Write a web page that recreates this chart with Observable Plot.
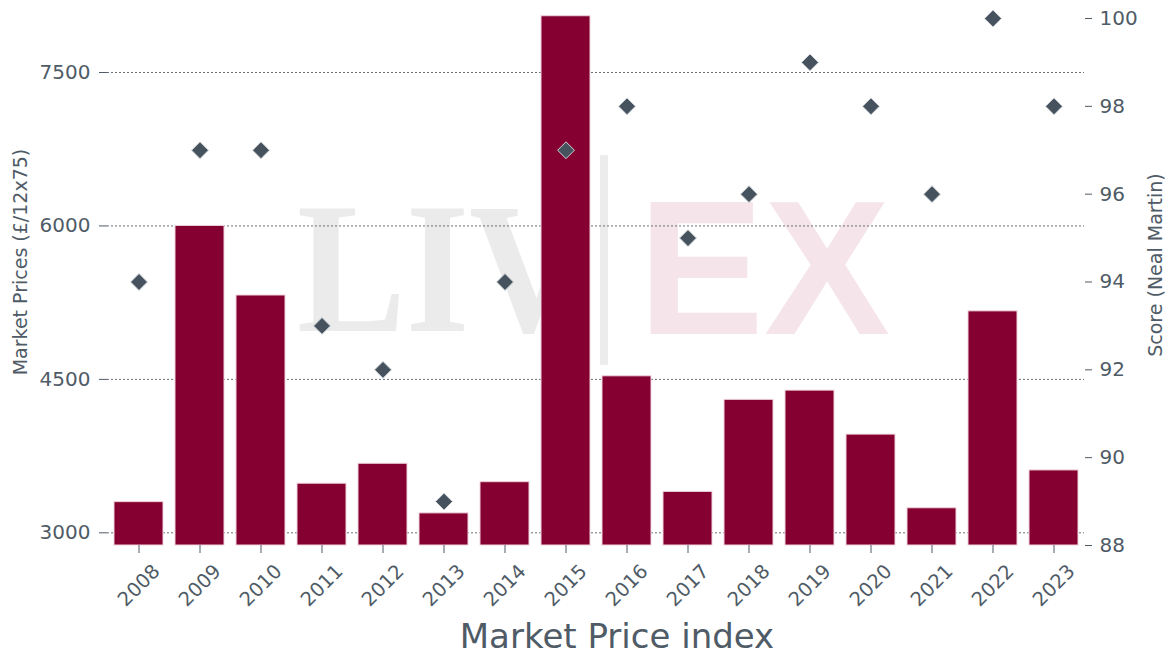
<!DOCTYPE html>
<html>
<head>
<meta charset="utf-8">
<script src="https://cdn.jsdelivr.net/npm/d3@7"></script>
<script src="https://cdn.jsdelivr.net/npm/@observablehq/plot@0.6"></script>
<style>
  html, body { margin: 0; padding: 0; background: #ffffff; }
  #wrap { position: relative; width: 1169px; height: 655px; overflow: hidden; }
  #wrap > svg, #wrap > figure { position: absolute; left: 0; top: 0; margin: 0; }
</style>
</head>
<body>
<div id="wrap">
  <svg id="wm" width="1169" height="655" xmlns="http://www.w3.org/2000/svg">
    <text x="297" y="331" font-family="Liberation Serif, DejaVu Serif, serif" font-weight="bold" font-size="186" fill="#ebebeb" textLength="290" lengthAdjust="spacingAndGlyphs">LIV</text>
    <rect x="600" y="155" width="8" height="210" fill="#ececec"></rect>
    <text x="638" y="334" font-family="Liberation Sans, Arial, sans-serif" font-weight="bold" font-size="192" fill="#f5e5eb" textLength="252" lengthAdjust="spacingAndGlyphs">EX</text>
  </svg>
</div>
<script>
// ---- data ----
const years  = ["2008","2009","2010","2011","2012","2013","2014","2015","2016","2017","2018","2019","2020","2021","2022","2023"];
const prices = [3300, 6000, 5320, 3480, 3675, 3190, 3495, 8050, 4530, 3400, 4300, 4390, 3960, 3240, 5165, 3610];
const scores = [94, 97, 97, 93, 92, 89, 94, 97, 98, 95, 96, 99, 98, 96, 100, 98];
const priceTicks = [3000, 4500, 6000, 7500];
const scoreTicks = [88, 90, 92, 94, 96, 98, 100];
const xTitle = "Market Price index";
const yLeftTitle = "Market Prices (£/12x75)";
const yRightTitle = "Score (Neal Martin)";

const data = years.map((y, i) => ({year: y, price: prices[i], score: scores[i]}));

// ---- style ----
const W = 1169, H = 655;
const margins = {marginTop: 18, marginBottom: 110, marginLeft: 107, marginRight: 85};
const txt = "#4f5b66";
const font = "DejaVu Sans, Verdana, sans-serif";
const priceDomain = [2876, 8028];
const xScale = {type: "band", domain: years, paddingInner: 0.2, paddingOuter: 0.03};

const plot1 = Plot.plot({
  width: W, height: H, ...margins,
  style: {background: "transparent", fontFamily: font, color: txt, overflow: "visible"},
  x: {...xScale, label: null},
  y: {domain: priceDomain, label: null},
  marks: [
    Plot.ruleY(priceTicks, {stroke: "#6a6f75", strokeWidth: 1, strokeDasharray: "2,2"}),
    Plot.barY(data, {x: "year", y1: priceDomain[0], y2: "price", fill: "#850030", stroke: "#efd3db", strokeWidth: 1}),
    Plot.axisY({ticks: priceTicks, tickSize: 8, tickPadding: 9, fontSize: 20, label: null, stroke: "#4f5b66", fill: txt, tickFormat: d => String(d)}),
    Plot.axisX({tickSize: 8, tickFormat: () => "", label: null, stroke: "#4f5b66"}),
    Plot.text(data, {x: "year", text: "year", frameAnchor: "bottom", dy: 40, rotate: -45, textAnchor: "middle", lineAnchor: "middle", fontSize: 19.5, fill: txt}),
    Plot.text([xTitle], {text: d => d, frameAnchor: "bottom", dx: 21, dy: 102, lineAnchor: "bottom", fontSize: 34, fill: txt}),
    Plot.text([yLeftTitle], {text: d => d, frameAnchor: "left", dx: -87, dy: -20, rotate: -90, textAnchor: "middle", lineAnchor: "middle", fontSize: 19, fill: txt})
  ]
});

const plot2 = Plot.plot({
  width: W, height: H, ...margins,
  style: {background: "transparent", fontFamily: font, color: txt, overflow: "visible"},
  x: {...xScale, axis: null},
  y: {domain: [88, 100], axis: null},
  marks: [
    Plot.dot(data, {x: "year", y: "score", symbol: "diamond2", r: 7.6, fill: "#46535f", stroke: "#d0d4d8", strokeWidth: 1}),
    Plot.axisY({anchor: "right", ticks: scoreTicks, tickSize: 7, tickPadding: 8, fontSize: 20, label: null, stroke: "#4f5b66", fill: txt}),
    Plot.text([yRightTitle], {text: d => d, frameAnchor: "right", dx: 71, dy: -17, rotate: -90, textAnchor: "middle", lineAnchor: "middle", fontSize: 19, fill: txt})
  ]
});

const wrap = document.getElementById("wrap");
wrap.appendChild(plot1);
wrap.appendChild(plot2);
</script>
</body>
</html>
